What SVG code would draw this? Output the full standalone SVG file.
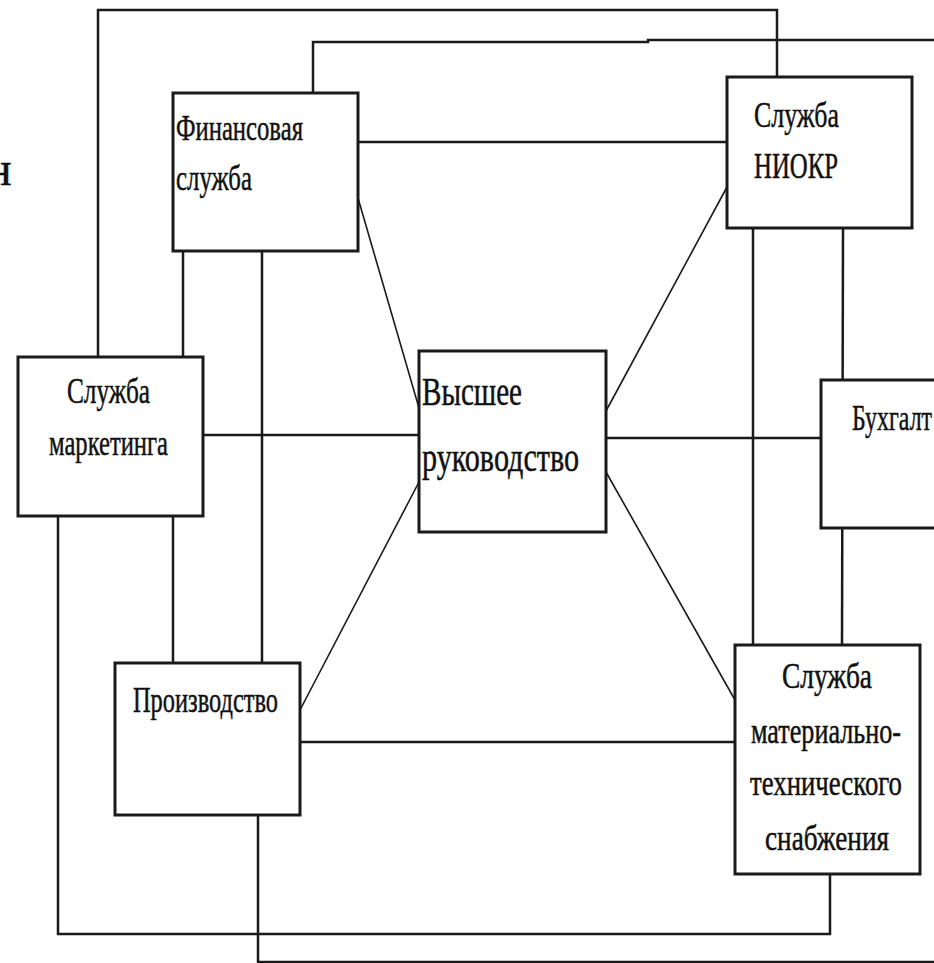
<svg xmlns="http://www.w3.org/2000/svg" width="934" height="963" viewBox="0 0 934 963">
<style>
.box{fill:#fff;stroke:#1a1a1a;stroke-width:3}
.ln{fill:none;stroke:#1a1a1a;stroke-width:2.5}
.dg{fill:none;stroke:#1a1a1a;stroke-width:1.6}
.t{font-family:"Liberation Serif","Times New Roman",serif;font-size:36px;fill:#111;stroke:#111;stroke-width:0.5}
.big{font-size:40px}
</style>
<rect width="934" height="963" fill="#fff"/>
<text class="t" x="-14" y="185" style="font-size:48px">н</text>
<g id="connectors">
<path class="ln" d="M98,357 V10 H777 V77"/>
<path class="ln" d="M313,93 V42 H648 V40 H934"/>
<line class="ln" x1="358" y1="142" x2="727" y2="142"/>
<line class="ln" x1="183" y1="251" x2="183" y2="357"/>
<line class="ln" x1="262" y1="251" x2="262" y2="663"/>
<line class="ln" x1="203" y1="435" x2="419" y2="435"/>
<line class="ln" x1="173" y1="516" x2="173" y2="663"/>
<path class="ln" d="M58,516 V934 H830 V874"/>
<path class="ln" d="M258,815 V962 H934"/>
<line class="ln" x1="300" y1="742" x2="735" y2="742"/>
<line class="ln" x1="606" y1="438" x2="821" y2="438"/>
<line class="ln" x1="753" y1="228" x2="753" y2="645"/>
<line class="ln" x1="843" y1="228" x2="842" y2="645"/>
<line class="dg" x1="358" y1="198" x2="419" y2="408"/>
<line class="dg" x1="300" y1="710" x2="419" y2="482"/>
<line class="dg" x1="606" y1="411" x2="727" y2="187"/>
<line class="dg" x1="606" y1="472" x2="735" y2="700"/>
</g>
<g id="fin">
<rect class="box" x="173" y="93" width="185" height="158"/>
<text class="t" x="176" y="140" textLength="127" lengthAdjust="spacingAndGlyphs">Финансовая</text>
<text class="t" x="176" y="190" textLength="76" lengthAdjust="spacingAndGlyphs">служба</text>
</g>
<g id="niokr">
<rect class="box" x="727" y="77" width="185" height="151"/>
<text class="t" x="754" y="127" textLength="85" lengthAdjust="spacingAndGlyphs">Служба</text>
<text class="t" x="754" y="178" textLength="84" lengthAdjust="spacingAndGlyphs">НИОКР</text>
</g>
<g id="marketing">
<rect class="box" x="18" y="357" width="185" height="159"/>
<text class="t" x="67" y="403" textLength="83" lengthAdjust="spacingAndGlyphs">Служба</text>
<text class="t" x="49" y="455" textLength="119" lengthAdjust="spacingAndGlyphs">маркетинга</text>
</g>
<g id="top">
<rect class="box" x="419" y="351" width="187" height="181"/>
<text class="t big" x="422" y="405" textLength="100" lengthAdjust="spacingAndGlyphs">Высшее</text>
<text class="t big" x="422" y="471" textLength="157" lengthAdjust="spacingAndGlyphs">руководство</text>
</g>
<g id="buh">
<rect class="box" x="821" y="380" width="130" height="148"/>
<text class="t" x="852" y="430" textLength="80" lengthAdjust="spacingAndGlyphs">Бухгалт</text>
</g>
<g id="prod">
<rect class="box" x="115" y="663" width="185" height="152"/>
<text class="t" x="133" y="712" textLength="145" lengthAdjust="spacingAndGlyphs">Производство</text>
</g>
<g id="snab">
<rect class="box" x="735" y="645" width="185" height="229"/>
<text class="t" x="782" y="688" textLength="90" lengthAdjust="spacingAndGlyphs">Служба</text>
<text class="t" x="751" y="743" textLength="150" lengthAdjust="spacingAndGlyphs">материально-</text>
<text class="t" x="750" y="795" textLength="152" lengthAdjust="spacingAndGlyphs">технического</text>
<text class="t" x="765" y="850" textLength="124" lengthAdjust="spacingAndGlyphs">снабжения</text>
</g>
</svg>
